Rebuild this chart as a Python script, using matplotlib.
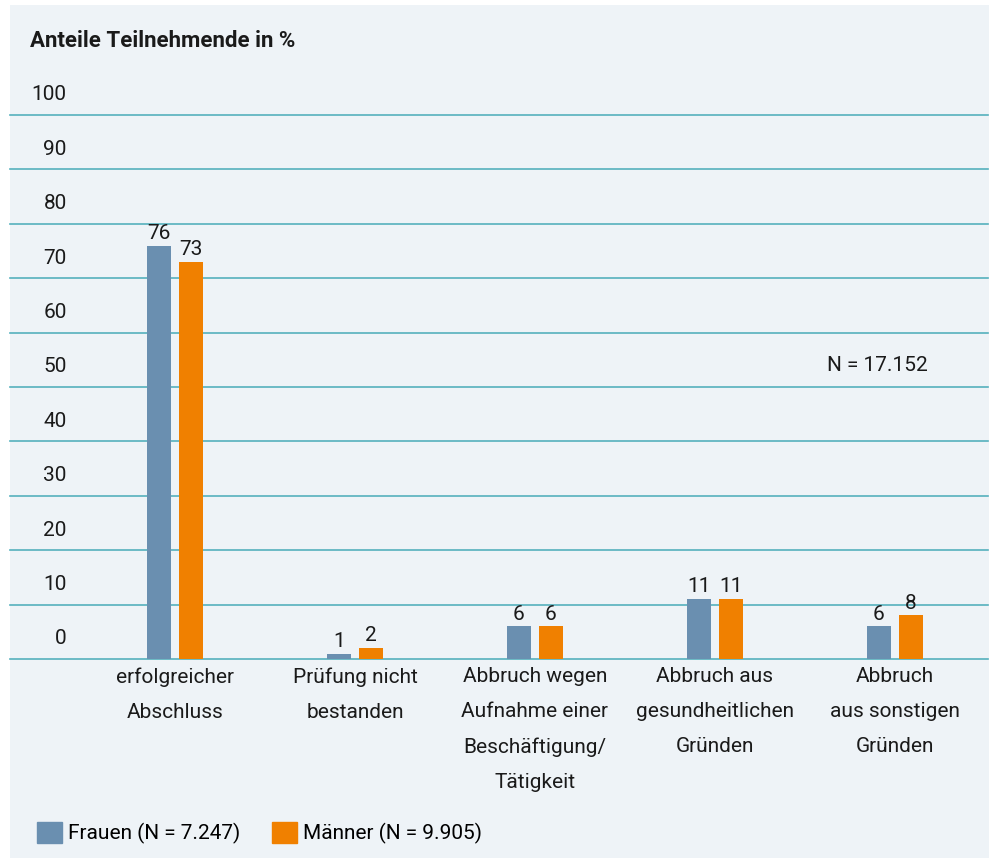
import matplotlib.pyplot as plt
import matplotlib.patches as mpatches
import numpy as np

# Daten
kategorien = ["erfolgreicher\nAbschluss", "Prüfung nicht\nbestanden",
              "Abbruch wegen\nAufnahme einer\nBeschäftigung/\nTätigkeit",
              "Abbruch aus\ngesundheitlichen\nGründen",
              "Abbruch\naus sonstigen\nGründen"]
frauen = [76, 1, 6, 11, 6]
maenner = [73, 2, 6, 11, 8]
y_ticks = [0, 10, 20, 30, 40, 50, 60, 70, 80, 90, 100]
legende = ["Frauen (N = 7.247)", "Männer (N = 9.905)"]
gesamt_text = "N = 17.152"

plt.rcParams['font.family'] = ['Roboto', 'DejaVu Sans']
BG = '#eef3f7'
BLAU = '#6a8fb0'
ORANGE = '#f08000'
GRID = '#55b0bd'
FS = 15

W, H = 989, 858
fig = plt.figure(figsize=(W / 100, H / 100), dpi=100)
fig.patch.set_facecolor('white')
# Hintergrundfläche
fig.patches.append(mpatches.Rectangle((10 / W, 0), 1 - 10 / W, 1 - 5 / H,
                                      transform=fig.transFigure,
                                      facecolor=BG, edgecolor='none', zorder=-5))

ax = fig.add_axes([10 / W, (H - 659) / H, 978 / W, (659 - 115) / H])
ax.set_facecolor('none')
for s in ax.spines.values():
    s.set_visible(False)

x = np.arange(len(kategorien))
px = 180.0  # Pixel pro Kategorie
ax.set_xlim((10 - 175) / px, (988 - 175) / px)
ax.set_ylim(0, 100)

for t in y_ticks:
    ax.axhline(t, color=GRID, lw=1.2, zorder=1, clip_on=False)
    ax.text(0.058, t + 3.7, str(t), transform=ax.get_yaxis_transform(),
            ha='right', va='center', fontsize=FS, color='#1a1a1a', clip_on=False)
ax.set_yticks([])

bw = 24 / px
off = 16 / px
b1 = ax.bar(x - off, frauen, bw, color=BLAU, zorder=2, label=legende[0])
b2 = ax.bar(x + off, maenner, bw, color=ORANGE, zorder=2, label=legende[1])
ax.bar_label(b1, padding=2, fontsize=FS, color='#1a1a1a')
ax.bar_label(b2, padding=2, fontsize=FS, color='#1a1a1a')

ax.set_xticks(x)
ax.set_xticklabels(kategorien, fontsize=FS, linespacing=2.05, color='#1a1a1a')
ax.tick_params(axis='x', length=0, pad=6)

ax.text((827 - 175) / px, 54, gesamt_text, ha='left', va='center',
        fontsize=FS, color='#1a1a1a')

fig.text(30 / W, 1 - 41 / H, "Anteile Teilnehmende in %", fontsize=16,
         fontweight='bold', ha='left', va='center', color='#1a1a1a')

handles = [mpatches.Patch(color=BLAU), mpatches.Patch(color=ORANGE)]
fig.legend(handles, legende, loc='center left', bbox_to_anchor=(37 / W, 1 - 833 / H),
           ncol=2, frameon=False, fontsize=FS, handlelength=1.2, handleheight=1.2,
           handletextpad=0.3, columnspacing=1.5, borderaxespad=0, borderpad=0)

fig.savefig('out.png', dpi=100, facecolor='white')
